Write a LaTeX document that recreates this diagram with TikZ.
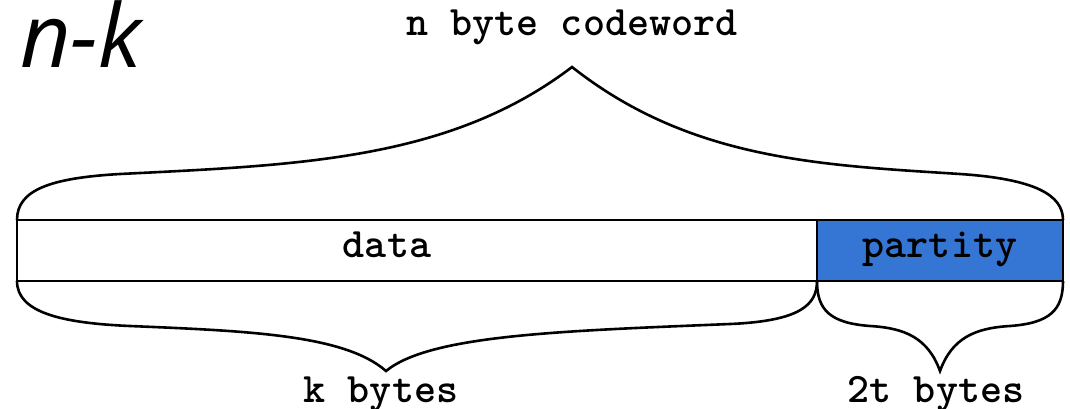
\documentclass[tikz,border=0pt]{standalone}
\usepackage{fontspec}
\newfontfamily\labelsans{Open Sans}
\definecolor{parityblue}{RGB}{53,118,212}
\begin{document}
\begin{tikzpicture}[x=1pt,y=-1pt,
  cell/.style={draw=black, line width=2.4pt, inner sep=0pt, outer sep=0pt,
    anchor=north west, minimum height=61pt},
  brace/.style={draw=black, line width=2.6pt, line join=miter, miter limit=20},
  caption/.style={font=\fontsize{42}{46}\selectfont\ttfamily\bfseries,
    inner sep=0pt, anchor=base}]
\useasboundingbox (0,0) rectangle (1070,408);

% codeword fields
\node[cell, minimum width=800pt, fill=white] (data) at (17,220) {};
\node[cell, minimum width=246pt, fill=parityblue] (parity) at (817,220) {};

% brace over the whole codeword
\draw[brace] (data.north west) .. controls (17,190) and (50,178) .. (120,174)
  .. controls (300,165) and (450,160) .. (572,67) coordinate (topcusp)
  .. controls (690,160) and (820,165) .. (960,174)
  .. controls (1035,179) and (1063,195) .. (parity.north east);

% brace under the data field
\draw[brace] (data.south west) .. controls (17,312) and (60,323) .. (130,326)
  .. controls (250,331) and (345,335) .. (386,371) coordinate (kcusp)
  .. controls (430,335) and (560,331) .. (730,324)
  .. controls (800,321) and (817,305) .. (data.south east);

% brace under the parity field
\draw[brace] (parity.south west) .. controls (817,310) and (830,323) .. (870,326)
  .. controls (905,328) and (928,338) .. (940,371) coordinate (tcusp)
  .. controls (952,338) and (975,328) .. (1010,326)
  .. controls (1050,323) and (1063,310) .. (parity.south east);

% labels
\node[caption] (datatext) at (387,257) {data};
\node[caption] (paritytext) at (940,257) {partity};
\node[caption] (codeword) at (572,35) {n byte codeword};
\node[caption] (kbytes) at (381,402) {k bytes};
\node[caption] (tbytes) at (936,402) {2t bytes};
\node[font=\fontsize{88}{96}\selectfont\labelsans\itshape, anchor=base west,
  inner sep=0pt] (nk) at (20,67) {n-k};
\end{tikzpicture}
\end{document}
